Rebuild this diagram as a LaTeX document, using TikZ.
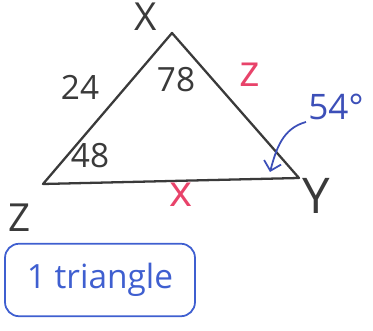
\documentclass[tikz,border=0pt]{standalone}
\usepackage{fontspec}
\setmainfont{Open Sans}
\usetikzlibrary{positioning, calc, arrows.meta}
\definecolor{Ink}{HTML}{3A3A3A}
\definecolor{RedInk}{HTML}{E8436A}
\definecolor{BlueInk}{HTML}{3C4FB8}
\definecolor{BoxInk}{HTML}{3F5FD0}
\tikzset{
    side/.style={line width=1.3pt, color=Ink, line join=round},
    vlabel/.style={text=Ink, font=\fontsize{22}{22}\selectfont},
    numlabel/.style={text=Ink, font=\fontsize{19}{19}\selectfont},
    redlabel/.style={text=RedInk, font=\fontsize{25}{25}\selectfont},
    bluelabel/.style={text=BlueInk, font=\fontsize{20}{20}\selectfont},
    answerbox/.style={draw=BoxInk, line width=1pt, rounded corners=8pt, text=BoxInk,
        minimum width=3.8cm, minimum height=1.45cm, font=\fontsize{19}{19}\selectfont},
    pointer/.style={-{Straight Barb[length=5pt]}, line width=1pt, color=BlueInk},
}
\begin{document}
\begin{tikzpicture}[x=0.02cm, y=-0.02cm]
    \useasboundingbox (0,0) rectangle (373,331);

    % Vertici del triangolo
    \coordinate (X) at (172,33);
    \coordinate (Y) at (299,178);
    \coordinate (Z) at (43,184);
    \draw[side] (X) -- (Y) -- (Z) -- cycle;

    % Nomi dei vertici
    \node[vlabel] (nX) at (146,17) {X};
    \node[vlabel, font=\fontsize{28}{28}\selectfont] (nY) at (316,196) {Y};
    \node[vlabel] (nZ) at (20,218) {Z};

    % Lati e angoli
    \node[numlabel] (l24) at (80,87) {24};
    \node[numlabel] (a78) at (176,80) {78};
    \node[numlabel] (a48) at (90,156) {48};
    \node[redlabel] (lz) at (250,75) {z};
    \node[redlabel] (lx) at (181,195) {x};

    % Angolo in Y
    \node[bluelabel] (a54) at (336,107) {54°};
    \coordinate (arrS) at (306,122);
    \coordinate (arrE) at (270,172);
    \draw[pointer] (arrS) to[out=195, in=75] (arrE);

    % Risposta
    \node[answerbox] (ans) at (100,280) {1 triangle};
\end{tikzpicture}
\end{document}
